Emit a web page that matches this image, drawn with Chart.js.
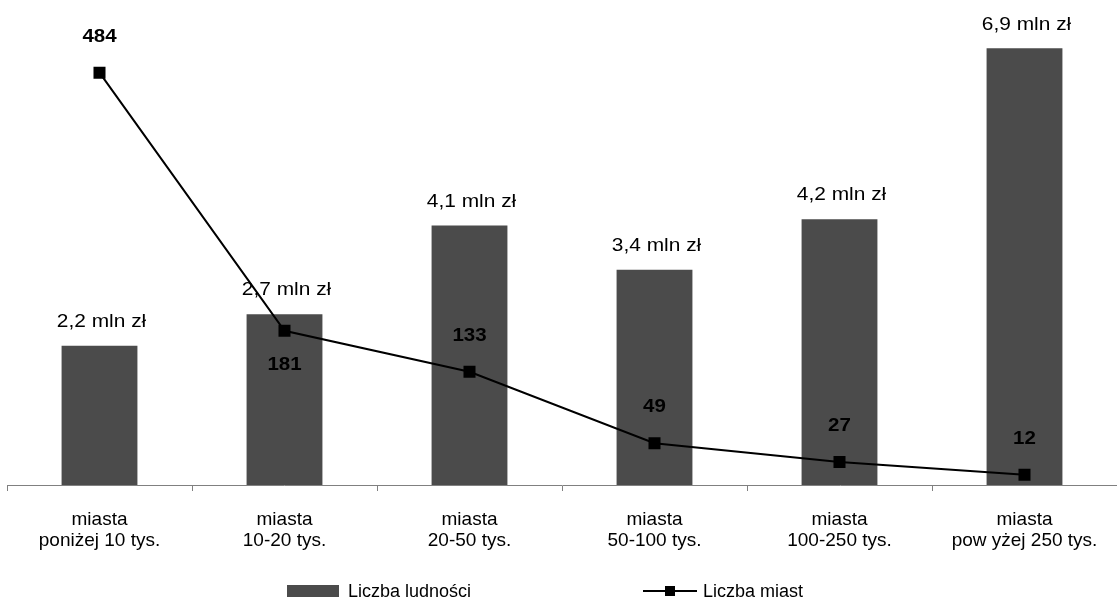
<!DOCTYPE html>
<html>
<head>
<meta charset="utf-8">
<script src="https://cdn.jsdelivr.net/npm/chart.js@4/dist/chart.umd.min.js"></script>
<style>
  html, body { margin: 0; padding: 0; background: #ffffff; }
  #wrap { width: 1117px; height: 604px; position: relative; }
</style>
</head>
<body>
<div id="wrap"><canvas id="c" width="1117" height="604"></canvas></div>
<script>
// Size classes of towns (two-line axis labels)
const categories = [
  ['miasta', 'poniżej 10 tys.'],
  ['miasta', '10-20 tys.'],
  ['miasta', '20-50 tys.'],
  ['miasta', '50-100 tys.'],
  ['miasta', '100-250 tys.'],
  ['miasta', 'pow yżej 250 tys.']
];
// Population per class, in millions
const populationMln = [2.2, 2.7, 4.1, 3.4, 4.2, 6.9];
// Number of towns per class
const townCount = [484, 181, 133, 49, 27, 12];

const seriesNames = ['Liczba ludności', 'Liczba miast'];

const FONT = '"Liberation Sans", Arial, Helvetica, sans-serif';
const BAR_COLOR = '#4b4b4b';

// Slightly widened text, centred on (x, y)
function wideText(ctx, txt, x, y, sx) {
  ctx.save();
  ctx.translate(x, y);
  ctx.scale(sx, 1);
  ctx.fillText(txt, 0, 0);
  ctx.restore();
}

// Value labels above bars and beside line points
const valueLabels = {
  id: 'valueLabels',
  afterDatasetsDraw(chart) {
    const ctx = chart.ctx;
    ctx.save();
    ctx.fillStyle = '#000';
    ctx.textAlign = 'center';
    ctx.textBaseline = 'middle';

    const barMeta = chart.getDatasetMeta(0);
    ctx.font = '19px ' + FONT;
    barMeta.data.forEach((el, i) => {
      const txt = populationMln[i].toFixed(1).replace('.', ',') + ' mln zł';
      wideText(ctx, txt, el.x + 2, el.y - 24, 1.1);
    });

    const lineMeta = chart.getDatasetMeta(1);
    ctx.font = 'bold 19px ' + FONT;
    lineMeta.data.forEach((el, i) => {
      const dy = (i === 1) ? 34 : -36;
      wideText(ctx, String(townCount[i]), el.x, el.y + dy, 1.08);
    });
    ctx.restore();
  }
};

// Legend row at the bottom
const bottomLegend = {
  id: 'bottomLegend',
  afterDraw(chart) {
    const ctx = chart.ctx;
    const y = 591;
    ctx.save();
    ctx.font = '18px ' + FONT;
    ctx.textBaseline = 'middle';
    ctx.textAlign = 'left';

    ctx.fillStyle = BAR_COLOR;
    ctx.fillRect(287, y - 6, 52, 12);
    ctx.fillStyle = '#000';
    ctx.fillText(seriesNames[0], 348, y + 1);

    ctx.strokeStyle = '#000';
    ctx.lineWidth = 2;
    ctx.beginPath();
    ctx.moveTo(643, y);
    ctx.lineTo(697, y);
    ctx.stroke();
    ctx.fillRect(665, y - 5, 10, 10);
    ctx.fillText(seriesNames[1], 703, y + 1);
    ctx.restore();
  }
};

new Chart(document.getElementById('c'), {
  data: {
    labels: categories,
    datasets: [
      {
        type: 'bar',
        label: seriesNames[0],
        data: populationMln,
        backgroundColor: BAR_COLOR,
        borderWidth: 0,
        barPercentage: 0.41,
        categoryPercentage: 1.0,
        yAxisID: 'y',
        order: 2
      },
      {
        type: 'line',
        label: seriesNames[1],
        data: townCount,
        borderColor: '#000',
        backgroundColor: '#000',
        borderWidth: 2,
        pointStyle: 'rect',
        pointRadius: 8.5,
        pointBorderWidth: 0,
        tension: 0,
        yAxisID: 'y1',
        order: 1
      }
    ]
  },
  plugins: [valueLabels, bottomLegend],
  options: {
    responsive: false,
    animation: false,
    layout: { autoPadding: false, padding: { left: 7, right: 0, top: 42, bottom: 0 } },
    plugins: {
      legend: { display: false },
      tooltip: { enabled: false }
    },
    scales: {
      x: {
        offset: true,
        grid: {
          offset: true,
          drawOnChartArea: false,
          drawTicks: true,
          tickLength: 6,
          color: '#808080',
          lineWidth: 1
        },
        border: { display: true, color: '#808080', width: 1 },
        ticks: {
          color: '#000',
          font: { family: FONT, size: 19, lineHeight: 1.08 },
          padding: 19,
          maxRotation: 0,
          autoSkip: false
        },
        afterFit(scale) {
          scale.height = 119;
          scale.paddingLeft = 0;
          scale.paddingRight = 0;
        }
      },
      y: {
        display: false,
        min: 0,
        max: 7
      },
      y1: {
        display: false,
        min: 0,
        max: 520
      }
    }
  }
});
</script>
</body>
</html>
